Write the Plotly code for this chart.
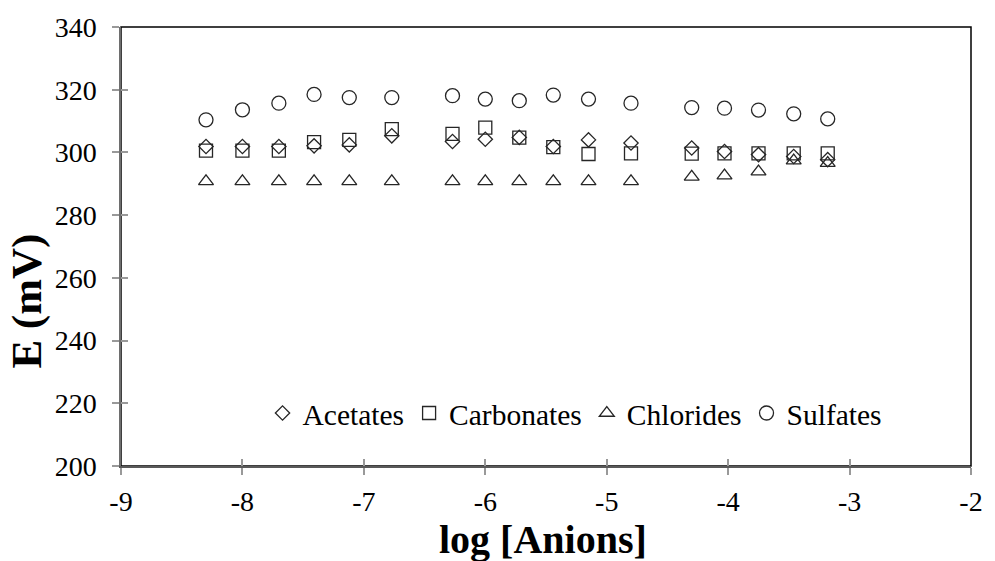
import plotly.graph_objects as go

# log of anion concentration (x) and electrode potential E in mV (y)
log_anions = [-8.30, -8.00, -7.70, -7.41, -7.12, -6.77, -6.27, -6.00, -5.72,
              -5.44, -5.15, -4.80, -4.30, -4.03, -3.75, -3.46, -3.18]
acetates = [301.9, 301.9, 301.9, 302.1, 302.4, 305.3, 303.5, 304.2, 304.8,
            301.9, 304.0, 303.0, 301.4, 300.3, 299.3, 298.7, 297.7]
carbonates = [300.6, 300.6, 300.6, 303.3, 304.0, 307.4, 305.9, 307.9, 304.7,
              301.7, 299.5, 299.7, 299.6, 299.7, 299.7, 299.7, 299.7]
chlorides = [290.8, 290.8, 290.8, 290.8, 290.8, 290.8, 290.8, 290.8, 290.8,
             290.8, 290.8, 290.8, 292.2, 292.6, 293.9, 297.4, 296.6]
sulfates = [310.4, 313.6, 315.7, 318.5, 317.5, 317.5, 318.1, 317.0, 316.5,
            318.3, 317.0, 315.7, 314.3, 314.1, 313.5, 312.3, 310.7]

series_names = ["Acetates", "Carbonates", "Chlorides", "Sulfates"]
series_values = [acetates, carbonates, chlorides, sulfates]
symbols = ["diamond-open", "square-open", "triangle-up-open", "circle-open"]
sizes = [11, 13, 13, 14]

x_ticks = [-9, -8, -7, -6, -5, -4, -3, -2]
x_tick_labels = ["-9", "-8", "-7", "-6", "-5", "-4", "-3", "-2"]
y_ticks = [200, 220, 240, 260, 280, 300, 320, 340]
y_tick_labels = ["200", "220", "240", "260", "280", "300", "320", "340"]

x_range = [-9, -2]
y_range = [200, 340]

FONT = "Liberation Serif, Times New Roman, serif"
MARK = "#262626"

fig = go.Figure()
for name, vals, sym, sz in zip(series_names, series_values, symbols, sizes):
    fig.add_trace(go.Scatter(
        x=log_anions, y=vals, name=name, mode="markers",
        marker=dict(symbol=sym, size=sz, color=MARK, line=dict(color=MARK, width=1.3)),
    ))

# invisible trace carrying the overlay axes that draw the inner half of the tick marks
fig.add_trace(go.Scatter(x=[None], y=[None], xaxis="x2", yaxis="y2",
                         showlegend=False, hoverinfo="skip"))

axis_common = dict(showgrid=False, zeroline=False, ticklen=7, tickwidth=1.5,
                   tickcolor="#999999")

fig.update_layout(
    width=995, height=561,
    margin=dict(l=121, r=16, t=25, b=95),
    paper_bgcolor="white", plot_bgcolor="white",
    font=dict(family=FONT, size=28, color="black"),
    xaxis=dict(range=x_range, tickmode="array", tickvals=x_ticks, ticktext=x_tick_labels,
               showline=True, linecolor="#595959", linewidth=2, ticks="outside",
               ticklabelstandoff=2, tickfont=dict(family=FONT, size=28), **axis_common),
    yaxis=dict(range=y_range, tickmode="array", tickvals=y_ticks, ticktext=y_tick_labels,
               showline=True, linecolor="#6e6e6e", linewidth=1.5, ticks="outside",
               ticklabelstandoff=10, tickfont=dict(family=FONT, size=28), **axis_common),
    xaxis2=dict(range=x_range, tickmode="array", tickvals=x_ticks, overlaying="x",
                anchor="y2", side="bottom", ticks="inside", showticklabels=False,
                showline=False, **axis_common),
    yaxis2=dict(range=y_range, tickmode="array", tickvals=y_ticks, overlaying="y",
                anchor="x2", side="left", ticks="inside", showticklabels=False,
                showline=False, **axis_common),
    shapes=[dict(type="rect", xref="paper", yref="paper", x0=0, x1=1, y0=0, y1=1,
                 line=dict(color="black", width=1.5), layer="below")],
    annotations=[
        dict(text="<b>log [Anions]</b>", xref="paper", yref="paper", x=0.496, y=-0.168,
             xanchor="center", yanchor="middle", showarrow=False,
             font=dict(family=FONT, size=40)),
        dict(text="<b>E (mV)</b>", xref="paper", yref="paper", x=-0.111, y=0.376,
             xanchor="center", yanchor="middle", showarrow=False, textangle=-90,
             font=dict(family=FONT, size=43)),
    ],
    legend=dict(orientation="h", x=0.1665, xanchor="left", y=0.12, yanchor="middle",
                bgcolor="rgba(0,0,0,0)", font=dict(family=FONT, size=29.5)),
    showlegend=True,
)

fig.write_html("out.html")
